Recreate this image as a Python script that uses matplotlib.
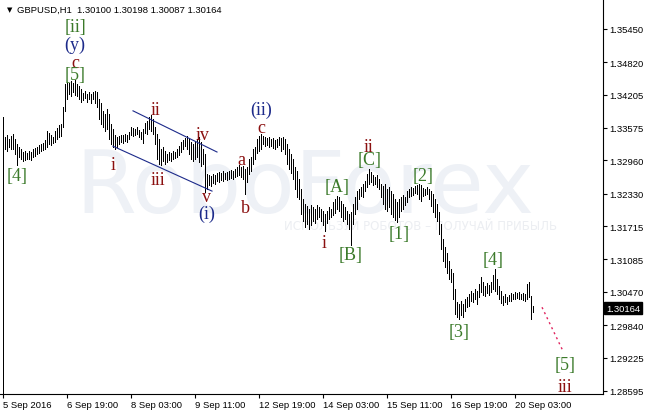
import numpy as np
import matplotlib
matplotlib.use("Agg")
import matplotlib.pyplot as plt
import matplotlib.transforms as mtransforms

# GBPUSD H1 bars (high / low)
highs = [
    1.3378, 1.3341, 1.3344, 1.3337, 1.3343, 1.3346, 1.3337, 1.3327, 1.3322, 1.3318,
    1.3312, 1.3314, 1.3310, 1.3314, 1.3312, 1.3318, 1.3320, 1.3322, 1.3325, 1.3327,
    1.3329, 1.3335, 1.3352, 1.3348, 1.3344, 1.3341, 1.3352, 1.3358, 1.3363, 1.3365,
    1.3397, 1.3441, 1.3445, 1.3443, 1.3447, 1.3443, 1.3448, 1.3441, 1.3437, 1.3431,
    1.3424, 1.3427, 1.3422, 1.3426, 1.3422, 1.3426, 1.3427, 1.3426, 1.3412, 1.3405,
    1.3390, 1.3384, 1.3393, 1.3384, 1.3365, 1.3356, 1.3344, 1.3341, 1.3343, 1.3344,
    1.3344, 1.3346, 1.3344, 1.3350, 1.3359, 1.3358, 1.3356, 1.3359, 1.3354, 1.3350,
    1.3356, 1.3367, 1.3371, 1.3378, 1.3382, 1.3375, 1.3359, 1.3346, 1.3337, 1.3318,
    1.3322, 1.3314, 1.3308, 1.3312, 1.3310, 1.3314, 1.3312, 1.3318, 1.3323, 1.3331,
    1.3335, 1.3339, 1.3343, 1.3337, 1.3331, 1.3327, 1.3333, 1.3337, 1.3341, 1.3331,
    1.3318, 1.3308, 1.3270, 1.3269, 1.3267, 1.3270, 1.3269, 1.3272, 1.3274, 1.3272,
    1.3276, 1.3272, 1.3274, 1.3276, 1.3278, 1.3276, 1.3280, 1.3284, 1.3288, 1.3284,
    1.3286, 1.3280, 1.3284, 1.3299, 1.3303, 1.3318, 1.3322, 1.3337, 1.3343, 1.3346,
    1.3343, 1.3341, 1.3339, 1.3341, 1.3337, 1.3339, 1.3335, 1.3337, 1.3341, 1.3339,
    1.3341, 1.3337, 1.3327, 1.3318, 1.3308, 1.3299, 1.3284, 1.3276, 1.3261, 1.3242,
    1.3223, 1.3214, 1.3210, 1.3204, 1.3212, 1.3208, 1.3204, 1.3212, 1.3208, 1.3204,
    1.3201, 1.3195, 1.3201, 1.3208, 1.3204, 1.3218, 1.3223, 1.3229, 1.3227, 1.3220,
    1.3214, 1.3208, 1.3201, 1.3195, 1.3199, 1.3214, 1.3227, 1.3238, 1.3242, 1.3246,
    1.3252, 1.3257, 1.3270, 1.3280, 1.3274, 1.3269, 1.3265, 1.3269, 1.3261, 1.3252,
    1.3248, 1.3252, 1.3242, 1.3246, 1.3238, 1.3233, 1.3223, 1.3218, 1.3223, 1.3227,
    1.3231, 1.3227, 1.3238, 1.3242, 1.3246, 1.3244, 1.3248, 1.3250, 1.3252, 1.3250,
    1.3244, 1.3242, 1.3246, 1.3242, 1.3238, 1.3233, 1.3223, 1.3214, 1.3199, 1.3176,
    1.3147, 1.3133, 1.3120, 1.3106, 1.3091, 1.3082, 1.3053, 1.3028, 1.3024, 1.3030,
    1.3024, 1.3034, 1.3038, 1.3043, 1.3049, 1.3045, 1.3053, 1.3049, 1.3062, 1.3076,
    1.3066, 1.3059, 1.3064, 1.3060, 1.3066, 1.3080, 1.3091, 1.3072, 1.3059, 1.3049,
    1.3040, 1.3043, 1.3038, 1.3041, 1.3045, 1.3043, 1.3047, 1.3045, 1.3047, 1.3043,
    1.3045, 1.3043, 1.3062, 1.3066, 1.3040, 1.3020,
]
lows = [
    1.3302, 1.3318, 1.3314, 1.3322, 1.3318, 1.3318, 1.3308, 1.3287, 1.3303, 1.3299,
    1.3295, 1.3297, 1.3299, 1.3299, 1.3297, 1.3303, 1.3305, 1.3308, 1.3310, 1.3314,
    1.3316, 1.3318, 1.3322, 1.3327, 1.3325, 1.3329, 1.3331, 1.3337, 1.3341, 1.3342,
    1.3359, 1.3390, 1.3412, 1.3422, 1.3418, 1.3426, 1.3420, 1.3418, 1.3412, 1.3407,
    1.3411, 1.3414, 1.3407, 1.3412, 1.3405, 1.3412, 1.3405, 1.3397, 1.3375, 1.3365,
    1.3359, 1.3352, 1.3356, 1.3337, 1.3327, 1.3322, 1.3318, 1.3322, 1.3327, 1.3331,
    1.3329, 1.3333, 1.3331, 1.3337, 1.3344, 1.3342, 1.3344, 1.3346, 1.3341, 1.3337,
    1.3329, 1.3348, 1.3346, 1.3356, 1.3352, 1.3346, 1.3327, 1.3299, 1.3289, 1.3287,
    1.3295, 1.3289, 1.3293, 1.3297, 1.3295, 1.3299, 1.3301, 1.3303, 1.3306, 1.3312,
    1.3318, 1.3323, 1.3318, 1.3308, 1.3299, 1.3295, 1.3299, 1.3303, 1.3293, 1.3286,
    1.3289, 1.3236, 1.3242, 1.3250, 1.3248, 1.3253, 1.3252, 1.3257, 1.3255, 1.3259,
    1.3257, 1.3261, 1.3259, 1.3261, 1.3263, 1.3261, 1.3265, 1.3267, 1.3269, 1.3265,
    1.3261, 1.3233, 1.3255, 1.3270, 1.3276, 1.3289, 1.3299, 1.3310, 1.3314, 1.3318,
    1.3327, 1.3323, 1.3325, 1.3322, 1.3323, 1.3320, 1.3318, 1.3322, 1.3325, 1.3314,
    1.3318, 1.3308, 1.3289, 1.3280, 1.3272, 1.3261, 1.3242, 1.3227, 1.3223, 1.3195,
    1.3181, 1.3170, 1.3176, 1.3166, 1.3174, 1.3181, 1.3178, 1.3185, 1.3189, 1.3181,
    1.3174, 1.3162, 1.3178, 1.3185, 1.3189, 1.3193, 1.3197, 1.3204, 1.3201, 1.3189,
    1.3181, 1.3185, 1.3176, 1.3166, 1.3135, 1.3176, 1.3195, 1.3204, 1.3223, 1.3229,
    1.3227, 1.3238, 1.3246, 1.3252, 1.3255, 1.3250, 1.3252, 1.3246, 1.3242, 1.3227,
    1.3214, 1.3204, 1.3201, 1.3208, 1.3195, 1.3189, 1.3183, 1.3180, 1.3189, 1.3201,
    1.3204, 1.3212, 1.3218, 1.3227, 1.3229, 1.3231, 1.3235, 1.3233, 1.3223, 1.3220,
    1.3229, 1.3231, 1.3233, 1.3223, 1.3210, 1.3199, 1.3189, 1.3181, 1.3157, 1.3128,
    1.3105, 1.3095, 1.3082, 1.3072, 1.3066, 1.3034, 1.3005, 1.3000, 1.2996, 1.3003,
    1.3000, 1.3011, 1.3019, 1.3020, 1.3030, 1.3028, 1.3034, 1.3024, 1.3038, 1.3047,
    1.3041, 1.3040, 1.3045, 1.3041, 1.3047, 1.3053, 1.3049, 1.3043, 1.3034, 1.3026,
    1.3022, 1.3028, 1.3024, 1.3030, 1.3030, 1.3034, 1.3034, 1.3036, 1.3034, 1.3034,
    1.3032, 1.3030, 1.3034, 1.3038, 1.2996, 1.3009,
]

time_labels = ["5 Sep 2016", "6 Sep 19:00", "8 Sep 03:00", "9 Sep 11:00", "12 Sep 19:00",
               "14 Sep 03:00", "15 Sep 11:00", "16 Sep 19:00", "20 Sep 03:00"]
bars_per_label = 32
price_ticks = [1.35450, 1.34820, 1.34205, 1.33575, 1.32960, 1.32330,
               1.31715, 1.31085, 1.30470, 1.29840, 1.29225, 1.28595]
symbol = "GBPUSD,H1"
last_ohlc = [1.30100, 1.30198, 1.30087, 1.30164]

# drawn objects: (bar index, price)
upper_channel = ([65, 107], [1.3390, 1.3312])
lower_channel = ([55, 104.5], [1.3323, 1.3238])
forecast = ([269.5, 280], [1.3018, 1.2935])

GREEN = "#3b7a2a"
RED = "#8b1010"
NAVY = "#1c2a8a"

# (text, bar index, price, colour, anchor)
wave_labels = [
    ("[ii]", 36, 1.3549, GREEN, "center"),
    ("(y)", 36, 1.3515, NAVY, "center"),
    ("c", 36, 1.3473, RED, "baseline"),
    ("[5]", 36.3, 1.3458, GREEN, "center"),
    ("[4]", 7.3, 1.3268, GREEN, "center"),
    ("i", 55, 1.3280, RED, "baseline"),
    ("ii", 76.5, 1.3384, RED, "baseline"),
    ("iii", 77.5, 1.3251, RED, "baseline"),
    ("iv", 100, 1.3337, RED, "baseline"),
    ("v", 102, 1.3219, RED, "baseline"),
    ("(i)", 102, 1.3195, NAVY, "center"),
    ("(ii)", 129, 1.3392, NAVY, "center"),
    ("c", 129, 1.3350, RED, "baseline"),
    ("a", 119, 1.3289, RED, "baseline"),
    ("b", 121, 1.3198, RED, "baseline"),
    ("i", 160.5, 1.3132, RED, "baseline"),
    ("[A]", 167, 1.3246, GREEN, "center"),
    ("[B]", 174, 1.3117, GREEN, "center"),
    ("ii", 183, 1.3314, RED, "baseline"),
    ("[C]", 183.5, 1.3297, GREEN, "center"),
    ("[1]", 198, 1.3157, GREEN, "center"),
    ("[2]", 210, 1.3268, GREEN, "center"),
    ("[3]", 228, 1.2973, GREEN, "center"),
    ("[4]", 245, 1.3109, GREEN, "center"),
    ("[5]", 281, 1.2909, GREEN, "center"),
    ("iii", 281, 1.2859, RED, "baseline"),
]

UI_FONT = ["Liberation Sans", "DejaVu Sans"]
SERIF = ["Liberation Serif", "DejaVu Serif"]

W, H = 646, 414
fig = plt.figure(figsize=(W / 100, H / 100), dpi=100)
ax = fig.add_axes([0, 19 / H, 603 / W, 395 / H])
ax.set_xlim(-1.5, 300)
ax.set_ylim(1.28537, 1.36018)

# watermark
ax.text(36, 1.3198, "RoboForex", fontsize=63, color="#eef1f6", family="DejaVu Sans",
        ha="left", va="baseline", zorder=0)
ax.text(209, 1.3172, "ИСПОЛЬЗУЙ РОБОТОВ – ПОЛУЧАЙ ПРИБЫЛЬ", fontsize=8.5, color="#eceef2",
        family="DejaVu Sans", ha="center", va="center", zorder=0)

x = np.arange(len(highs))
ax.vlines(x, lows, highs, colors="black", linewidth=0.5, antialiased=False, zorder=2)
ax.vlines(x[0], ax.get_ylim()[0], highs[0], colors="black", linewidth=0.5,
          antialiased=False, zorder=2)

ax.plot(*upper_channel, color=NAVY, lw=0.8, zorder=3)
ax.plot(*lower_channel, color=NAVY, lw=0.8, zorder=3)
ax.plot(*forecast, color="#e0245e", lw=1.0, ls=(0, (1.5, 2.5)), zorder=3)

for txt, xi, yi, col, va in wave_labels:
    ax.text(xi, yi, txt, color=col, fontsize=13, family=SERIF, ha="center", va=va, zorder=4)

for s in ["top", "left"]:
    ax.spines[s].set_visible(False)
for s in ["right", "bottom"]:
    ax.spines[s].set_linewidth(0.8)

ax.yaxis.tick_right()
ax.set_yticks(price_ticks)
ax.set_yticklabels([f"{p:.5f}" for p in price_ticks], family=UI_FONT, fontsize=6.8)
ax.set_xticks(np.arange(len(time_labels)) * bars_per_label)
ax.set_xticklabels(time_labels, family=UI_FONT, fontsize=6.8, ha="left")
ax.tick_params(axis="both", length=3, width=0.8, direction="out", pad=1.5)

# current price marker
trans = mtransforms.blended_transform_factory(ax.transAxes, ax.transData)
ax.text(1.0 + 3 / 603, last_ohlc[3], f"{last_ohlc[3]:.5f}", transform=trans, color="white",
        fontsize=6.8, family=UI_FONT, ha="left", va="center",
        bbox=dict(boxstyle="square,pad=0.2", fc="black", ec="black"), clip_on=False)

# header
fig.text(7 / W, 1 - 10 / H, "▼", fontsize=5, family="DejaVu Sans", va="center", ha="left")
header = symbol + "  " + " ".join(f"{v:.5f}" for v in last_ohlc)
fig.text(17 / W, 1 - 10 / H, header, fontsize=6.8, family=UI_FONT, va="center", ha="left")

fig.savefig("out.png", dpi=100)
